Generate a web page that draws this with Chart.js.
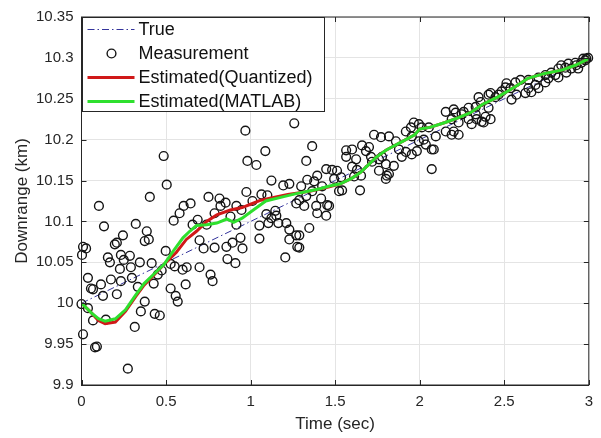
<!DOCTYPE html>
<html>
<head>
<meta charset="utf-8">
<script src="https://cdn.jsdelivr.net/npm/chart.js@4.4.1/dist/chart.umd.min.js"></script>
<style>
  html, body { margin: 0; padding: 0; background: #fff; }
</style>
</head>
<body>
<canvas id="chart" width="601" height="438"></canvas>
<script>
// axis ticks
const xTicks = [0, 0.5, 1, 1.5, 2, 2.5, 3];
const xTickLabels = ['0', '0.5', '1', '1.5', '2', '2.5', '3'];
const yTicks = [9.9, 9.95, 10, 10.05, 10.1, 10.15, 10.2, 10.25, 10.3, 10.35];
const yTickLabels = ['9.9', '9.95', '10', '10.05', '10.1', '10.15', '10.2', '10.25', '10.3', '10.35'];

// true trajectory
const trueTime = [0, 0.5, 1, 1.5, 2, 2.5, 3];
const trueValue = [10.0, 10.05, 10.1, 10.15, 10.2, 10.25, 10.3];

// noisy radar measurements
const measTime = [
  0.000, 0.003, 0.009, 0.027, 0.009, 0.038, 0.038, 0.056, 0.068, 0.068,
  0.080, 0.091, 0.103, 0.115, 0.127, 0.133, 0.144, 0.156, 0.168, 0.174,
  0.197, 0.209, 0.209, 0.227, 0.233, 0.233, 0.245, 0.250, 0.274, 0.286,
  0.292, 0.298, 0.315, 0.321, 0.333, 0.345, 0.351, 0.374, 0.386, 0.374,
  0.398, 0.404, 0.415, 0.427, 0.433, 0.463, 0.451, 0.474, 0.486, 0.498,
  0.504, 0.527, 0.551, 0.527, 0.557, 0.569, 0.545, 0.580, 0.604, 0.645,
  0.598, 0.622, 0.616, 0.698, 0.657, 0.687, 0.740, 0.698, 0.722, 0.751,
  0.763, 0.775, 0.787, 0.787, 0.816, 0.822, 0.852, 0.857, 0.863, 0.893,
  0.910, 0.940, 0.952, 0.881, 0.916, 0.916, 0.946, 0.975, 0.981, 1.034,
  0.969, 1.011, 1.052, 1.052, 1.064, 1.093, 1.099, 1.105, 1.087, 1.123,
  1.123, 1.146, 1.152, 1.164, 1.193, 1.229, 1.205, 1.211, 1.229, 1.270,
  1.229, 1.276, 1.258, 1.270, 1.288, 1.288, 1.288, 1.299, 1.317, 1.329,
  1.329, 1.335, 1.347, 1.364, 1.364, 1.376, 1.388, 1.394, 1.394, 1.417,
  1.423, 1.447, 1.447, 1.453, 1.464, 1.482, 1.494, 1.511, 1.523, 1.535,
  1.541, 1.565, 1.565, 1.600, 1.600, 1.612, 1.624, 1.629, 1.647, 1.653,
  1.659, 1.682, 1.700, 1.712, 1.718, 1.730, 1.759, 1.759, 1.771, 1.777,
  1.800, 1.806, 1.818, 1.818, 1.847, 1.859, 1.877, 1.894, 1.918, 1.918,
  1.948, 1.953, 1.953, 1.965, 1.995, 1.995, 2.012, 2.024, 2.036, 2.054,
  2.071, 2.071, 2.095, 2.154, 2.154, 2.189, 2.189, 2.201, 2.201, 2.213,
  2.230, 2.230, 2.248, 2.260, 2.289, 2.289, 2.307, 2.331, 2.331, 2.336,
  2.348, 2.360, 2.366, 2.378, 2.389, 2.407, 2.407, 2.419, 2.419, 2.448,
  2.466, 2.484, 2.507, 2.513, 2.537, 2.543, 2.566, 2.572, 2.596, 2.625,
  2.643, 2.643, 2.660, 2.684, 2.702, 2.702, 2.743, 2.743, 2.761, 2.778,
  2.802, 2.820, 2.820, 2.837, 2.861, 2.867, 2.879, 2.896, 2.920, 2.926,
  2.937, 2.955, 2.967, 2.979, 2.985, 2.996, 1.800, 1.983, 2.083
];
const measValue = [
  9.999, 10.059, 10.069, 10.067, 9.962, 10.031, 9.994, 10.018, 10.017, 9.979,
  9.946, 9.947, 10.119, 10.023, 10.009, 10.094, 9.980, 10.056, 10.050, 10.029,
  10.072, 10.074, 10.011, 10.042, 10.059, 10.027, 10.083, 10.053, 9.920, 10.058,
  10.044, 10.031, 9.971, 10.097, 10.020, 10.050, 9.990, 10.002, 10.088, 10.076,
  10.078, 10.130, 10.049, 10.024, 9.987, 9.985, 10.035, 10.040, 10.180, 10.064,
  10.145, 10.048, 10.045, 10.018, 10.009, 10.002, 10.101, 10.110, 10.119, 10.122,
  10.041, 10.044, 10.023, 10.044, 10.096, 10.102, 10.096, 10.077, 10.067, 10.130,
  10.035, 10.027, 10.110, 10.068, 10.128, 10.119, 10.123, 10.069, 10.054, 10.074,
  10.049, 10.080, 10.067, 10.106, 10.096, 10.119, 10.114, 10.136, 10.174, 10.169,
  10.211, 10.125, 10.079, 10.095, 10.133, 10.109, 10.132, 10.098, 10.186, 10.150,
  10.104, 10.113, 10.107, 10.098, 10.144, 10.146, 10.056, 10.098, 10.090, 10.083,
  10.078, 10.069, 10.220, 10.122, 10.126, 10.068, 10.083, 10.143, 10.119, 10.174,
  10.131, 10.151, 10.092, 10.192, 10.137, 10.149, 10.119, 10.110, 10.156, 10.128,
  10.143, 10.164, 10.107, 10.120, 10.119, 10.163, 10.152, 10.162, 10.137, 10.154,
  10.138, 10.187, 10.179, 10.188, 10.167, 10.155, 10.176, 10.163, 10.138, 10.156,
  10.193, 10.186, 10.191, 10.179, 10.173, 10.206, 10.176, 10.162, 10.203, 10.179,
  10.170, 10.156, 10.204, 10.158, 10.168, 10.198, 10.188, 10.179, 10.210, 10.185,
  10.215, 10.182, 10.204, 10.221, 10.219, 10.198, 10.215, 10.200, 10.194, 10.215,
  10.188, 10.164, 10.204, 10.234, 10.210, 10.225, 10.206, 10.237, 10.210, 10.233,
  10.221, 10.206, 10.231, 10.234, 10.239, 10.225, 10.219, 10.240, 10.231, 10.225,
  10.252, 10.246, 10.222, 10.221, 10.228, 10.255, 10.239, 10.225, 10.257, 10.252,
  10.255, 10.259, 10.264, 10.269, 10.263, 10.249, 10.270, 10.255, 10.273, 10.257,
  10.273, 10.263, 10.258, 10.267, 10.276, 10.263, 10.279, 10.270, 10.275, 10.282,
  10.279, 10.276, 10.287, 10.291, 10.288, 10.282, 10.293, 10.287, 10.294, 10.291,
  10.287, 10.294, 10.299, 10.297, 10.299, 10.300, 10.152, 10.186, 10.188
];

// Kalman estimate, fixed-point (quantized) implementation
const quantTime = [
  0, 0.05, 0.1, 0.14, 0.2, 0.26, 0.32, 0.37, 0.43, 0.5,
  0.56, 0.62, 0.68, 0.74, 0.8, 0.88, 0.95, 1.0, 1.06, 1.15,
  1.22, 1.35, 1.46, 1.53, 1.6, 1.65, 1.69, 1.74, 1.8, 1.89,
  1.97, 2.0, 2.06, 2.15, 2.23, 2.3, 2.37, 2.46, 2.56, 2.64,
  2.74, 2.84, 2.92, 3.0
];
const quantValue = [
  10.0, 9.99, 9.979, 9.975, 9.977, 9.99, 10.008, 10.022, 10.035, 10.05,
  10.062, 10.078, 10.088, 10.1, 10.108, 10.114, 10.117, 10.121, 10.126, 10.13,
  10.133, 10.137, 10.142, 10.146, 10.153, 10.16, 10.168, 10.178, 10.187, 10.197,
  10.206, 10.213, 10.215, 10.221, 10.227, 10.233, 10.243, 10.252, 10.264, 10.275,
  10.281, 10.285, 10.291, 10.299
];

// Kalman estimate, floating-point reference
const matlabTime = [
  0, 0.03, 0.06, 0.1, 0.14, 0.2, 0.26, 0.32, 0.37, 0.43,
  0.49, 0.55, 0.6, 0.64, 0.68, 0.74, 0.8, 0.86, 0.9, 0.95,
  1.01, 1.09, 1.19, 1.27, 1.34, 1.41, 1.46, 1.53, 1.6, 1.65,
  1.69, 1.74, 1.8, 1.89, 1.97, 2.0, 2.06, 2.15, 2.23, 2.3,
  2.37, 2.46, 2.56, 2.64, 2.74, 2.84, 2.92, 3.0
];
const matlabValue = [
  10.0, 9.994, 9.988, 9.981, 9.978, 9.981, 9.992, 10.010, 10.024, 10.036,
  10.048, 10.066, 10.08, 10.088, 10.095, 10.096, 10.098, 10.103, 10.099, 10.104,
  10.113, 10.125, 10.130, 10.134, 10.137, 10.140, 10.143, 10.146, 10.153, 10.160,
  10.168, 10.178, 10.187, 10.197, 10.206, 10.213, 10.215, 10.221, 10.227, 10.233,
  10.243, 10.252, 10.264, 10.275, 10.281, 10.285, 10.291, 10.299
];

const toPoints = (xs, ys) => xs.map((x, i) => ({ x: x, y: ys[i] }));

const axisColor = '#262626';
const gridColor = '#e4e4e4';
const fontFamily = '"Liberation Sans", Arial, Helvetica, sans-serif';

// box around the axes with inward tick marks on all four sides
const axesBox = {
  id: 'axesBox',
  afterDatasetsDraw(chart) {
    const { ctx, chartArea: a, scales } = chart;
    const len = 5;
    ctx.save();
    ctx.strokeStyle = axisColor;
    ctx.lineWidth = 1;
    ctx.strokeRect(a.left, a.top, a.right - a.left, a.bottom - a.top);
    ctx.beginPath();
    xTicks.forEach(v => {
      const px = Math.round(scales.x.getPixelForValue(v)) + 0.5;
      ctx.moveTo(px, a.bottom); ctx.lineTo(px, a.bottom - len);
      ctx.moveTo(px, a.top); ctx.lineTo(px, a.top + len);
    });
    yTicks.forEach(v => {
      const py = Math.round(scales.y.getPixelForValue(v)) + 0.5;
      ctx.moveTo(a.left, py); ctx.lineTo(a.left + len, py);
      ctx.moveTo(a.right, py); ctx.lineTo(a.right - len, py);
    });
    ctx.stroke();
    ctx.restore();
  }
};

// legend drawn in a bordered box in the top-left corner of the axes
const boxLegend = {
  id: 'boxLegend',
  afterDraw(chart) {
    const { ctx, chartArea: a } = chart;
    const x0 = Math.round(a.left) + 0.5, y0 = Math.round(a.top) + 0.5;
    const w = 242, h = 94, rowH = 24;
    ctx.save();
    ctx.fillStyle = '#fff';
    ctx.fillRect(x0, y0, w, h);
    ctx.strokeStyle = axisColor;
    ctx.lineWidth = 1;
    ctx.strokeRect(x0, y0, w, h);
    ctx.font = '18px ' + fontFamily;
    ctx.textBaseline = 'middle';
    chart.data.datasets.forEach((ds, i) => {
      const cy = y0 + 12 + i * rowH;
      ctx.save();
      if (ds.showLine) {
        ctx.strokeStyle = ds.borderColor;
        ctx.lineWidth = ds.borderWidth;
        ctx.setLineDash(ds.borderDash || []);
        ctx.beginPath();
        ctx.moveTo(x0 + 5, cy);
        ctx.lineTo(x0 + 52, cy);
        ctx.stroke();
      } else {
        ctx.strokeStyle = ds.pointBorderColor;
        ctx.lineWidth = ds.pointBorderWidth;
        ctx.beginPath();
        ctx.arc(x0 + 29, cy, ds.pointRadius, 0, Math.PI * 2);
        ctx.stroke();
      }
      ctx.restore();
      ctx.fillStyle = '#111';
      ctx.fillText(ds.label, x0 + 56, cy + 1);
    });
    ctx.restore();
  }
};

new Chart(document.getElementById('chart'), {
  type: 'scatter',
  data: {
    datasets: [
      {
        label: 'True',
        data: toPoints(trueTime, trueValue),
        showLine: true,
        borderColor: '#34349c',
        borderWidth: 1,
        borderDash: [7, 3, 1.5, 3],
        pointRadius: 0,
        order: 3
      },
      {
        label: 'Measurement',
        data: toPoints(measTime, measValue),
        showLine: false,
        pointStyle: 'circle',
        pointRadius: 4.4,
        pointBorderWidth: 1.4,
        pointBorderColor: '#151515',
        pointBackgroundColor: 'rgba(0,0,0,0)',
        clip: 8,
        order: 2
      },
      {
        label: 'Estimated(Quantized)',
        data: toPoints(quantTime, quantValue),
        showLine: true,
        borderColor: '#d01818',
        borderWidth: 3,
        pointRadius: 0,
        order: 1
      },
      {
        label: 'Estimated(MATLAB)',
        data: toPoints(matlabTime, matlabValue),
        showLine: true,
        borderColor: '#2ee02e',
        borderWidth: 3,
        pointRadius: 0,
        order: 0
      }
    ]
  },
  options: {
    responsive: false,
    animation: false,
    events: [],
    layout: { padding: { top: 10, right: 10, left: 0, bottom: 0 } },
    scales: {
      x: {
        type: 'linear',
        min: 0,
        max: 3,
        afterBuildTicks: s => { s.ticks = xTicks.map(v => ({ value: v })); },
        afterFit: s => { s.height = 53; },
        ticks: {
          callback: (v, i) => xTickLabels[i],
          color: axisColor,
          font: { family: fontFamily, size: 15 },
          padding: 8,
          maxRotation: 0,
          autoSkip: false
        },
        grid: { color: gridColor, drawTicks: false },
        border: { display: true, color: axisColor },
        title: {
          display: true,
          text: 'Time (sec)',
          color: axisColor,
          font: { family: fontFamily, size: 17 },
          padding: { top: 0, bottom: 3 }
        }
      },
      y: {
        type: 'linear',
        min: 9.9,
        max: 10.35,
        afterBuildTicks: s => { s.ticks = yTicks.map(v => ({ value: v })); },
        afterFit: s => { s.width = 81.5; },
        ticks: {
          callback: (v, i) => yTickLabels[i],
          color: axisColor,
          font: { family: fontFamily, size: 15 },
          padding: 8,
          autoSkip: false
        },
        grid: { color: gridColor, drawTicks: false },
        border: { display: true, color: axisColor },
        title: {
          display: true,
          text: 'Downrange (km)',
          color: axisColor,
          font: { family: fontFamily, size: 17 },
          padding: { top: 12, bottom: 0 }
        }
      }
    },
    plugins: {
      legend: { display: false },
      tooltip: { enabled: false }
    }
  },
  plugins: [axesBox, boxLegend]
});
</script>
</body>
</html>
